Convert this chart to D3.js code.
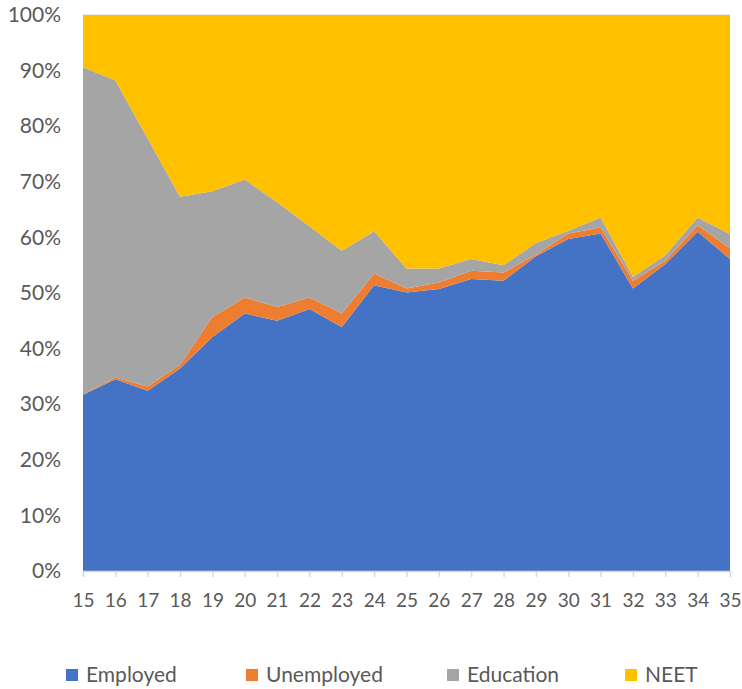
<!DOCTYPE html>
<html><head><meta charset="utf-8">
<script src="https://cdn.jsdelivr.net/npm/d3@7"></script>
<style>body{margin:0;background:#fff;} text{font-family:Lato,"Liberation Sans",sans-serif;fill:#595959;}</style>
</head><body>
<svg id="c" width="742" height="689"></svg>
<script>
const ages = [15,16,17,18,19,20,21,22,23,24,25,26,27,28,29,30,31,32,33,34,35];
const employed   = [31.7,34.5,32.4,36.4,42.1,46.3,45.0,47.1,43.9,51.4,50.1,50.7,52.5,52.2,56.6,59.7,60.7,50.8,55.2,61.0,56.1];
const unemployed = [0.1,0.3,0.8,0.7,3.6,2.9,2.5,2.1,2.4,2.1,0.7,1.2,1.5,1.5,0.3,1.0,1.1,1.4,0.6,1.2,1.9];
const education  = [58.8,53.4,44.6,30.2,22.6,21.2,18.8,12.8,11.3,7.6,3.6,2.5,2.1,1.3,2.1,0.5,1.8,0.7,1.0,1.4,2.6];
const neet       = [9.4,11.8,22.2,32.7,31.7,29.6,33.7,38.0,42.4,38.9,45.6,45.6,43.9,45.0,41.0,38.8,36.4,47.1,43.2,36.4,39.4];
const seriesNames = ["Employed","Unemployed","Education","NEET"];
const colors = ["#4472C4","#ED7D31","#A5A5A5","#FFC000"];
const yTicks = [0,0.1,0.2,0.3,0.4,0.5,0.6,0.7,0.8,0.9,1.0];

const table = ages.map((a,i)=>({age:a, Employed:employed[i], Unemployed:unemployed[i], Education:education[i], NEET:neet[i]}));
const svg = d3.select("#c");
const m = {l:83, r:730, t:15, b:571};
const x = d3.scaleLinear().domain([15,35]).range([m.l,m.r]);
const y = d3.scaleLinear().domain([0,1]).range([m.b,m.t]);

// gridlines
svg.append("g").selectAll("line").data(yTicks).join("line")
  .attr("x1",m.l).attr("x2",m.r).attr("y1",d=>y(d)).attr("y2",d=>y(d))
  .attr("stroke","#d9d9d9").attr("stroke-width",1);

const stack = d3.stack().keys(seriesNames).offset(d3.stackOffsetExpand);
const layers = stack(table);
const area = d3.area().x(d=>x(d.data.age)).y0(d=>y(d[0])).y1(d=>y(d[1]));
svg.append("g").selectAll("path").data(layers).join("path")
  .attr("d",area).attr("fill",(d,i)=>colors[i]);

// x axis
const xa = svg.append("g").attr("transform",`translate(0,${m.b})`)
  .call(d3.axisBottom(x).tickValues(ages).tickFormat(d3.format("d")).tickSize(6));
xa.select(".domain").attr("stroke","#d9d9d9").attr("stroke-width",1.5);
xa.selectAll(".tick line").attr("stroke","#d9d9d9").attr("stroke-width",1.5);
xa.selectAll("text").attr("y",29).attr("dy","0.35em").style("font-size","19px").attr("fill","#595959");

// y axis
const ya = svg.append("g").attr("transform",`translate(${m.l},0)`)
  .call(d3.axisLeft(y).tickValues(yTicks).tickFormat(d3.format(".0%")).tickSize(0).tickPadding(22));
ya.select(".domain").remove();
ya.selectAll("text").style("font-size","21px").attr("fill","#595959");

// legend
const legX = [66,246,447,625];
const lg = svg.append("g").selectAll("g").data(seriesNames).join("g")
  .attr("transform",(d,i)=>`translate(${legX[i]},675)`);
lg.append("rect").attr("x",0).attr("y",-6).attr("width",12).attr("height",12).attr("fill",(d,i)=>colors[i]);
lg.append("text").attr("x",20).attr("y",0).attr("dy","0.35em").style("font-size","21px").text(d=>d);
</script>
</body></html>
